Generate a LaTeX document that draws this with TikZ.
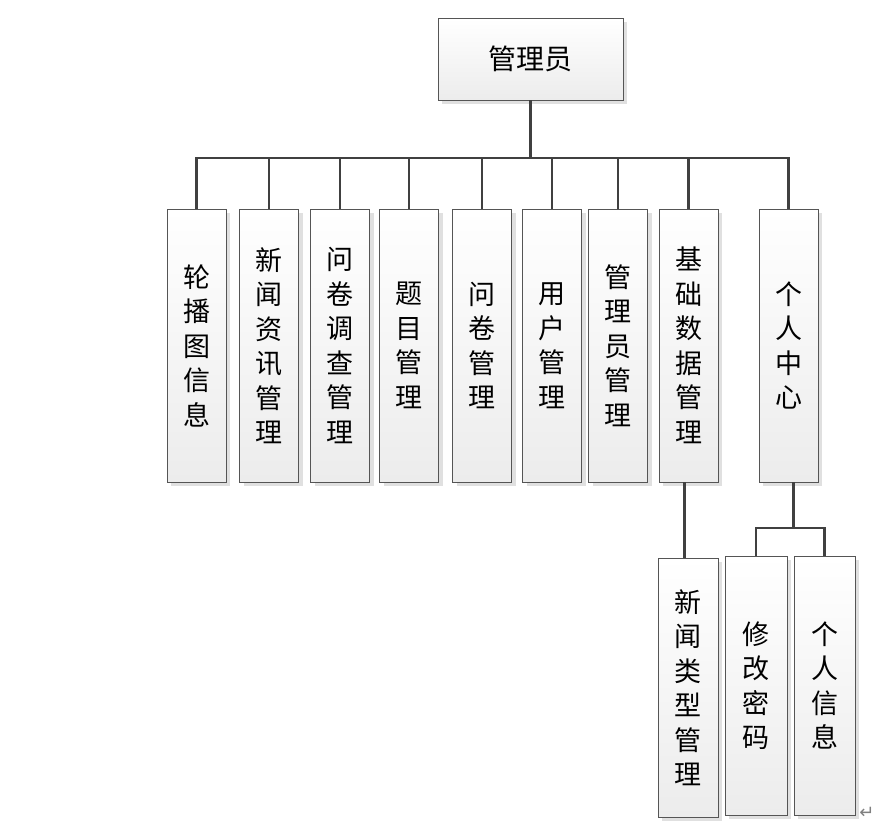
\documentclass[tikz,border=0pt]{standalone}
\usepackage{fontspec}
\newfontfamily\cjk{Noto Sans CJK SC}
\newfontfamily\symfont{DejaVu Sans}
\usetikzlibrary{positioning,calc,shadows}
\definecolor{linec}{HTML}{404040}
\definecolor{boxline}{HTML}{555555}
\definecolor{boxbot}{HTML}{ECECEC}
\tikzset{
  modbox/.style={draw=boxline, line width=0.9pt, top color=white, bottom color=boxbot,
    minimum width=59pt, minimum height=273pt, inner sep=0pt, align=center,
    font=\cjk\fontsize{27}{34.5}\selectfont,
    drop shadow={shadow xshift=4pt, shadow yshift=-4pt, fill=black!12, opacity=1}},
  link/.style={draw=linec, line width=2.2pt}
}

\begin{document}
\begin{tikzpicture}[x=1pt, y=-1pt]
  \useasboundingbox (0,0) rectangle (875,824);
  \node[modbox, minimum width=185pt, minimum height=82pt,
        font=\cjk\fontsize{28}{30}\selectfont] (admin) at (530.5,59) {管理员};
  \coordinate (bus) at (0,158);
  % second level
  \foreach \n/\x/\t in {m1/196.5/{轮\\播\\图\\信\\息}, m2/269/{新\\闻\\资\\讯\\管\\理},
      m3/340/{问\\卷\\调\\查\\管\\理}, m4/409/{题\\目\\管\\理}, m5/482/{问\\卷\\管\\理},
      m6/552/{用\\户\\管\\理}, m7/618/{管\\理\\员\\管\\理}, m8/688.5/{基\\础\\数\\据\\管\\理},
      m9/788.5/{个\\人\\中\\心}}{
    \node[modbox] (\n) at (\x,345.5) {\t};}
  \foreach \n in {m1,m2,m3,m4,m5,m6,m7,m8,m9}
    \draw[link] (admin.south) -- (admin.south |- bus) -| (\n.north);
  % third level
  \node[modbox, minimum width=60pt, minimum height=259pt] (n1) at (688,687.5) {新\\闻\\类\\型\\管\\理};
  \node[modbox, minimum width=62pt, minimum height=259pt] (n2) at (756,685.5) {修\\改\\密\\码};
  \node[modbox, minimum width=61pt, minimum height=259pt] (n3) at (824.5,685.5) {个\\人\\信\\息};
  \draw[link] ([xshift=-4pt]m8.south) -- ([xshift=-4pt]m8.south |- n1.north);
  \coordinate (sub) at (0,528);
  \draw[link] ([xshift=5pt]m9.south) -- ([xshift=5pt]m9.south |- sub);
  \draw[link] (n2.north) -- (n2.north |- sub) -- (n3.north |- sub) -- (n3.north);
  \node[text=gray, font=\symfont\fontsize{18}{18}\selectfont] (pmark) at (867,813) {↵};
\end{tikzpicture}
\end{document}
